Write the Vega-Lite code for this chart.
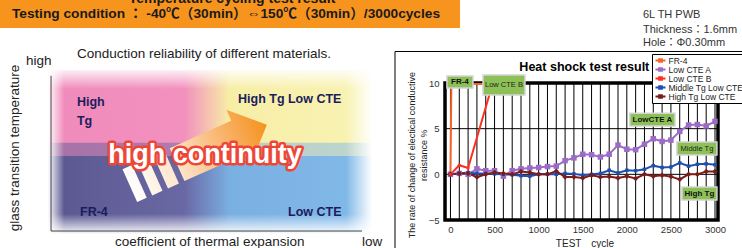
{
  "$schema": "https://vega.github.io/schema/vega-lite/v6.json",
  "width": 742,
  "height": 248,
  "padding": 0,
  "autosize": {"type": "none"},
  "background": "white",
  "config": {"view": {"stroke": null}, "font": "Liberation Sans, Noto Sans CJK JP"},
  "datasets": {
    "series": [
      {"series": "FR-4", "cycle": 0, "value": 0}, {"series": "FR-4", "cycle": 10, "value": 9.9}, {"series": "FR-4", "cycle": 500, "value": 9.9},
      {"series": "Low CTE A", "cycle": 0, "value": 0}, {"series": "Low CTE A", "cycle": 100, "value": 0.1}, {"series": "Low CTE A", "cycle": 200, "value": 0.0}, {"series": "Low CTE A", "cycle": 300, "value": 0.6}, {"series": "Low CTE A", "cycle": 400, "value": 0.4}, {"series": "Low CTE A", "cycle": 500, "value": 0.4}, {"series": "Low CTE A", "cycle": 600, "value": -0.2}, {"series": "Low CTE A", "cycle": 700, "value": 0.4}, {"series": "Low CTE A", "cycle": 800, "value": 0.6}, {"series": "Low CTE A", "cycle": 900, "value": 0.7}, {"series": "Low CTE A", "cycle": 1000, "value": 0.75}, {"series": "Low CTE A", "cycle": 1100, "value": 0.85}, {"series": "Low CTE A", "cycle": 1200, "value": 0.9}, {"series": "Low CTE A", "cycle": 1300, "value": 1.5}, {"series": "Low CTE A", "cycle": 1400, "value": 1.8}, {"series": "Low CTE A", "cycle": 1500, "value": 2.2}, {"series": "Low CTE A", "cycle": 1600, "value": 2.15}, {"series": "Low CTE A", "cycle": 1700, "value": 1.9}, {"series": "Low CTE A", "cycle": 1800, "value": 2.2}, {"series": "Low CTE A", "cycle": 1900, "value": 3.2}, {"series": "Low CTE A", "cycle": 2000, "value": 2.75}, {"series": "Low CTE A", "cycle": 2100, "value": 2.7}, {"series": "Low CTE A", "cycle": 2200, "value": 3.3}, {"series": "Low CTE A", "cycle": 2300, "value": 3.9}, {"series": "Low CTE A", "cycle": 2400, "value": 3.6}, {"series": "Low CTE A", "cycle": 2500, "value": 3.75}, {"series": "Low CTE A", "cycle": 2600, "value": 4.7}, {"series": "Low CTE A", "cycle": 2700, "value": 5.4}, {"series": "Low CTE A", "cycle": 2800, "value": 5.45}, {"series": "Low CTE A", "cycle": 2900, "value": 5.3}, {"series": "Low CTE A", "cycle": 3000, "value": 5.8},
      {"series": "Low CTE B", "cycle": 0, "value": 0}, {"series": "Low CTE B", "cycle": 100, "value": 1.0}, {"series": "Low CTE B", "cycle": 200, "value": 0.7}, {"series": "Low CTE B", "cycle": 480, "value": 10},
      {"series": "Middle Tg Low CTE", "cycle": 0, "value": 0}, {"series": "Middle Tg Low CTE", "cycle": 100, "value": 0.1}, {"series": "Middle Tg Low CTE", "cycle": 200, "value": 0.2}, {"series": "Middle Tg Low CTE", "cycle": 300, "value": 0.1}, {"series": "Middle Tg Low CTE", "cycle": 400, "value": 0.1}, {"series": "Middle Tg Low CTE", "cycle": 500, "value": 0.05}, {"series": "Middle Tg Low CTE", "cycle": 600, "value": 0}, {"series": "Middle Tg Low CTE", "cycle": 700, "value": -0.05}, {"series": "Middle Tg Low CTE", "cycle": 800, "value": -0.15}, {"series": "Middle Tg Low CTE", "cycle": 900, "value": -0.2}, {"series": "Middle Tg Low CTE", "cycle": 1000, "value": 0.0}, {"series": "Middle Tg Low CTE", "cycle": 1100, "value": 0.05}, {"series": "Middle Tg Low CTE", "cycle": 1200, "value": 0.0}, {"series": "Middle Tg Low CTE", "cycle": 1300, "value": 0.1}, {"series": "Middle Tg Low CTE", "cycle": 1400, "value": 0.05}, {"series": "Middle Tg Low CTE", "cycle": 1500, "value": -0.1}, {"series": "Middle Tg Low CTE", "cycle": 1600, "value": 0}, {"series": "Middle Tg Low CTE", "cycle": 1700, "value": 0.1}, {"series": "Middle Tg Low CTE", "cycle": 1800, "value": 0.45}, {"series": "Middle Tg Low CTE", "cycle": 1900, "value": 0.15}, {"series": "Middle Tg Low CTE", "cycle": 2000, "value": 0.45}, {"series": "Middle Tg Low CTE", "cycle": 2100, "value": 0.4}, {"series": "Middle Tg Low CTE", "cycle": 2200, "value": 0.55}, {"series": "Middle Tg Low CTE", "cycle": 2300, "value": 0.95}, {"series": "Middle Tg Low CTE", "cycle": 2400, "value": 0.75}, {"series": "Middle Tg Low CTE", "cycle": 2500, "value": 0.8}, {"series": "Middle Tg Low CTE", "cycle": 2600, "value": 1.25}, {"series": "Middle Tg Low CTE", "cycle": 2700, "value": 0.9}, {"series": "Middle Tg Low CTE", "cycle": 2800, "value": 1.1}, {"series": "Middle Tg Low CTE", "cycle": 2900, "value": 1.15}, {"series": "Middle Tg Low CTE", "cycle": 3000, "value": 1.05},
      {"series": "High Tg Low CTE", "cycle": 0, "value": 0}, {"series": "High Tg Low CTE", "cycle": 100, "value": 0.1}, {"series": "High Tg Low CTE", "cycle": 200, "value": 0.1}, {"series": "High Tg Low CTE", "cycle": 300, "value": -0.3}, {"series": "High Tg Low CTE", "cycle": 400, "value": 0}, {"series": "High Tg Low CTE", "cycle": 500, "value": 0.2}, {"series": "High Tg Low CTE", "cycle": 600, "value": 0.1}, {"series": "High Tg Low CTE", "cycle": 700, "value": 0}, {"series": "High Tg Low CTE", "cycle": 800, "value": 0.3}, {"series": "High Tg Low CTE", "cycle": 900, "value": 0.2}, {"series": "High Tg Low CTE", "cycle": 1000, "value": 0}, {"series": "High Tg Low CTE", "cycle": 1100, "value": 0}, {"series": "High Tg Low CTE", "cycle": 1200, "value": 0.35}, {"series": "High Tg Low CTE", "cycle": 1300, "value": -0.3}, {"series": "High Tg Low CTE", "cycle": 1400, "value": -0.3}, {"series": "High Tg Low CTE", "cycle": 1500, "value": -0.4}, {"series": "High Tg Low CTE", "cycle": 1600, "value": -0.1}, {"series": "High Tg Low CTE", "cycle": 1700, "value": -0.3}, {"series": "High Tg Low CTE", "cycle": 1800, "value": -0.25}, {"series": "High Tg Low CTE", "cycle": 1900, "value": -0.4}, {"series": "High Tg Low CTE", "cycle": 2000, "value": -0.2}, {"series": "High Tg Low CTE", "cycle": 2100, "value": -0.45}, {"series": "High Tg Low CTE", "cycle": 2200, "value": 0.0}, {"series": "High Tg Low CTE", "cycle": 2300, "value": -0.2}, {"series": "High Tg Low CTE", "cycle": 2400, "value": -0.1}, {"series": "High Tg Low CTE", "cycle": 2500, "value": -0.25}, {"series": "High Tg Low CTE", "cycle": 2600, "value": -0.55}, {"series": "High Tg Low CTE", "cycle": 2700, "value": 0.0}, {"series": "High Tg Low CTE", "cycle": 2800, "value": 0.0}, {"series": "High Tg Low CTE", "cycle": 2900, "value": 0.3}, {"series": "High Tg Low CTE", "cycle": 3000, "value": 0.3}
    ],
    "gridX": [{"cycle": 0, "value": -5, "value2": 10}, {"cycle": 100, "value": -5, "value2": 10}, {"cycle": 200, "value": -5, "value2": 10}, {"cycle": 300, "value": -5, "value2": 10}, {"cycle": 400, "value": -5, "value2": 10}, {"cycle": 500, "value": -5, "value2": 10}, {"cycle": 600, "value": -5, "value2": 10}, {"cycle": 700, "value": -5, "value2": 10}, {"cycle": 800, "value": -5, "value2": 10}, {"cycle": 900, "value": -5, "value2": 10}, {"cycle": 1000, "value": -5, "value2": 10}, {"cycle": 1100, "value": -5, "value2": 10}, {"cycle": 1200, "value": -5, "value2": 10}, {"cycle": 1300, "value": -5, "value2": 10}, {"cycle": 1400, "value": -5, "value2": 10}, {"cycle": 1500, "value": -5, "value2": 10}, {"cycle": 1600, "value": -5, "value2": 10}, {"cycle": 1700, "value": -5, "value2": 10}, {"cycle": 1800, "value": -5, "value2": 10}, {"cycle": 1900, "value": -5, "value2": 10}, {"cycle": 2000, "value": -5, "value2": 10}, {"cycle": 2100, "value": -5, "value2": 10}, {"cycle": 2200, "value": -5, "value2": 10}, {"cycle": 2300, "value": -5, "value2": 10}, {"cycle": 2400, "value": -5, "value2": 10}, {"cycle": 2500, "value": -5, "value2": 10}, {"cycle": 2600, "value": -5, "value2": 10}, {"cycle": 2700, "value": -5, "value2": 10}, {"cycle": 2800, "value": -5, "value2": 10}, {"cycle": 2900, "value": -5, "value2": 10}, {"cycle": 3000, "value": -5, "value2": 10}],
    "gridY": [{"value": 0, "cycle": -62, "cycle2": 3034}, {"value": 5, "cycle": -62, "cycle2": 3034}]
  },
  "layer": [
    {
      "encoding": {
        "x": {"field": "x", "type": "quantitative", "scale": {"domain": [0, 2], "range": [55, 360], "nice": false, "zero": false}, "axis": null},
        "y": {"field": "y", "type": "quantitative", "scale": {"domain": [0, 2], "range": [225, 78], "nice": false, "zero": false}, "axis": null}
      },
      "layer": [
        {
          "data": {"values": [{"x": -0.4, "x2": 2.656, "y": 3.1, "y2": 2.68}]},
          "mark": {"type": "rect", "fill": "#f7941d"},
          "encoding": {"x2": {"field": "x2"}, "y2": {"field": "y2"}}
        },
        {
          "data": {"values": [{"x": 1.161, "y": 3.02, "label": "Temperature cycling test result"}]},
          "mark": {"type": "text", "align": "center", "baseline": "alphabetic", "fontSize": 14, "fontWeight": "bold", "color": "#1a1a1a"},
          "encoding": {"text": {"field": "label"}}
        },
        {
          "data": {"values": [{"x": -0.282, "y": 2.871, "label": "Testing condition ： -40℃（30min）⇔150℃（30min）/3000cycles"}]},
          "mark": {"type": "text", "align": "left", "baseline": "middle", "fontSize": 13.7, "fontWeight": "bold", "color": "#1a1a1a"},
          "encoding": {"text": {"field": "label"}}
        },
        {
          "data": {"values": [{"x": -0.046, "x2": 2.079, "y": 2.11, "y2": 1.0}]},
          "mark": {"type": "rect", "fill": {"gradient": "linear", "x1": 0, "y1": 0, "x2": 1, "y2": 0, "stops": [
            {"offset": 0, "color": "#ffffff"}, {"offset": 0.05, "color": "#f08cbc"}, {"offset": 0.42, "color": "#f290be"}, {"offset": 0.56, "color": "#f7eea6"}, {"offset": 0.92, "color": "#f8f2b2"}, {"offset": 1, "color": "#ffffff"}]}},
          "encoding": {"x2": {"field": "x2"}, "y2": {"field": "y2"}}
        },
        {
          "data": {"values": [{"x": -0.046, "x2": 2.079, "y": 1.03, "y2": -0.12}]},
          "mark": {"type": "rect", "fill": {"gradient": "linear", "x1": 0, "y1": 0, "x2": 1, "y2": 0, "stops": [
            {"offset": 0, "color": "#ffffff"}, {"offset": 0.05, "color": "#5c5992"}, {"offset": 0.42, "color": "#6a68a4"}, {"offset": 0.56, "color": "#7aafe2"}, {"offset": 0.92, "color": "#80b8e8"}, {"offset": 1, "color": "#ffffff"}]}},
          "encoding": {"x2": {"field": "x2"}, "y2": {"field": "y2"}}
        },
        {
          "data": {"values": [{"x": -0.046, "x2": 2.079, "y": 1.12, "y2": 1.03}]},
          "mark": {"type": "rect", "opacity": 0.5, "fill": {"gradient": "linear", "x1": 0, "y1": 0, "x2": 1, "y2": 0, "stops": [
            {"offset": 0, "color": "#ffffff"}, {"offset": 0.05, "color": "#5c5992"}, {"offset": 0.42, "color": "#6a68a4"}, {"offset": 0.56, "color": "#7aafe2"}, {"offset": 0.92, "color": "#80b8e8"}, {"offset": 1, "color": "#ffffff"}]}},
          "encoding": {"x2": {"field": "x2"}, "y2": {"field": "y2"}}
        },
        {
          "data": {"values": [{"x": -0.046, "x2": 2.079, "y": 1.03, "y2": 0.94}]},
          "mark": {"type": "rect", "opacity": 0.5, "fill": {"gradient": "linear", "x1": 0, "y1": 0, "x2": 1, "y2": 0, "stops": [
            {"offset": 0, "color": "#ffffff"}, {"offset": 0.05, "color": "#f08cbc"}, {"offset": 0.42, "color": "#f290be"}, {"offset": 0.56, "color": "#f7eea6"}, {"offset": 0.92, "color": "#f8f2b2"}, {"offset": 1, "color": "#ffffff"}]}},
          "encoding": {"x2": {"field": "x2"}, "y2": {"field": "y2"}}
        },
        {
          "data": {"values": [{"x": -0.1, "x2": 2.15, "y": 2.15, "y2": 1.85}]},
          "mark": {"type": "rect", "fill": {"gradient": "linear", "x1": 0, "y1": 0, "x2": 0, "y2": 1, "stops": [
            {"offset": 0, "color": "#ffffff"}, {"offset": 1, "color": "rgba(255,255,255,0)"}]}},
          "encoding": {"x2": {"field": "x2"}, "y2": {"field": "y2"}}
        },
        {
          "data": {"values": [{"x": -0.1, "x2": 2.15, "y": 0.15, "y2": -0.13}]},
          "mark": {"type": "rect", "fill": {"gradient": "linear", "x1": 0, "y1": 0, "x2": 0, "y2": 1, "stops": [
            {"offset": 0, "color": "rgba(255,255,255,0)"}, {"offset": 1, "color": "#ffffff"}]}},
          "encoding": {"x2": {"field": "x2"}, "y2": {"field": "y2"}}
        },
        {
          "data": {"values": [{"x": -0.026, "y": 2.03, "y2": -0.082}]},
          "mark": {"type": "rule", "color": "#444", "strokeWidth": 1},
          "encoding": {"y2": {"field": "y2"}}
        },
        {
          "data": {"values": [{"x": -0.026, "x2": 2.013, "y": -0.082}]},
          "mark": {"type": "rule", "color": "#444", "strokeWidth": 1},
          "encoding": {"x2": {"field": "x2"}}
        },
        {
          "data": {"values": [
            {"x": 0.144, "y": 2.327, "label": "Conduction reliability of different materials."},
            {"x": -0.19, "y": 2.231, "label": "high"},
            {"x": 0.393, "y": -0.231, "label": "coefficient of thermal expansion"},
            {"x": 2.013, "y": -0.231, "label": "low"}
          ]},
          "mark": {"type": "text", "align": "left", "baseline": "middle", "fontSize": 13.5, "color": "#222"},
          "encoding": {"text": {"field": "label"}}
        },
        {
          "data": {"values": [{"x": -0.262, "y": 1.048, "label": "glass transition temperature"}]},
          "mark": {"type": "text", "align": "center", "baseline": "middle", "fontSize": 13.5, "angle": 270, "color": "#222"},
          "encoding": {"text": {"field": "label"}}
        },
        {
          "data": {"values": [
            {"x": 0.144, "y": 1.673, "label": "High"},
            {"x": 0.144, "y": 1.415, "label": "Tg"},
            {"x": 1.2, "y": 1.714, "label": "High Tg Low CTE"},
            {"x": 0.164, "y": 0.177, "label": "FR-4"},
            {"x": 1.528, "y": 0.177, "label": "Low CTE"}
          ]},
          "mark": {"type": "text", "align": "left", "baseline": "middle", "fontSize": 12.5, "fontWeight": "bold", "color": "#1b1d5c"},
          "encoding": {"text": {"field": "label"}}
        },
        {
          "data": {"values": [{"x": 0.94, "y": 0.95}]},
          "mark": {"type": "point", "filled": true, "size": 22500, "angle": -24, "strokeWidth": 0, "opacity": 1,
            "shape": "M-0.31,-0.24L0.587,-0.24L0.587,-0.4L1,0L0.587,0.4L0.587,0.24L-0.31,0.24Z M-1,-0.24L-0.86,-0.24L-0.86,0.24L-1,0.24Z M-0.78,-0.24L-0.63,-0.24L-0.63,0.24L-0.78,0.24Z M-0.55,-0.24L-0.39,-0.24L-0.39,0.24L-0.55,0.24Z",
            "fill": {"gradient": "linear", "x1": 0, "y1": 0, "x2": 1, "y2": 0, "stops": [
              {"offset": 0, "color": "#ffffff"}, {"offset": 0.35, "color": "#fde3c6"}, {"offset": 0.7, "color": "#f9b46c"}, {"offset": 1, "color": "#f5921e"}]}}
        },
        {
          "data": {"values": [{"x": 0.984, "y": 0.844, "label": "high continuity"}]},
          "mark": {"type": "text", "align": "center", "baseline": "alphabetic", "fontSize": 27, "fontWeight": "bold", "fill": "#ee4636", "stroke": "#ee4636", "strokeWidth": 5, "strokeJoin": "round", "font": "Liberation Sans"},
          "encoding": {"text": {"field": "label"}}
        },
        {
          "data": {"values": [{"x": 0.984, "y": 0.844, "label": "high continuity"}]},
          "mark": {"type": "text", "align": "center", "baseline": "alphabetic", "fontSize": 27, "fontWeight": "bold", "fill": "#ffffff", "font": "Liberation Sans"},
          "encoding": {"text": {"field": "label"}}
        }
      ]
    },
    {
      "encoding": {
        "x": {"field": "cycle", "type": "quantitative", "scale": {"domain": [-62, 3034], "range": [445, 718], "nice": false, "zero": false},
          "axis": {"orient": "bottom", "offset": -28, "values": [0, 500, 1000, 1500, 2000, 2500, 3000],
            "format": "d", "labelOverlap": false, "labelFlush": false, "grid": false,
            "domain": false, "ticks": false, "labelFontSize": 9.5, "labelColor": "#333", "labelPadding": 4, "title": null}},
        "y": {"field": "value", "type": "quantitative", "scale": {"domain": [-5, 10], "range": [220, 83], "nice": false, "zero": false},
          "axis": {"orient": "left", "offset": -445, "values": [-5, 0, 5, 10], "grid": false,
            "domain": false, "ticks": false, "labelFontSize": 9.5, "labelColor": "#333", "labelPadding": 6, "title": null}}
      },
      "layer": [
        {
          "data": {"values": [{"cycle": -629, "cycle2": 3400, "value": -9, "value2": 13.45}]},
          "mark": {"type": "rect", "fill": "transparent", "stroke": "#000", "strokeWidth": 1},
          "encoding": {"x2": {"field": "cycle2"}, "y2": {"field": "value2"}}
        },
        {
          "data": {"name": "gridX"},
          "mark": {"type": "rule", "color": "#000", "strokeWidth": 1},
          "encoding": {"y2": {"field": "value2"}}
        },
        {
          "data": {"name": "gridY"},
          "mark": {"type": "rule", "color": "#000", "strokeWidth": 1},
          "encoding": {"x2": {"field": "cycle2"}}
        },
        {
          "data": {"values": [{"cycle": -62, "cycle2": 3034, "value": -5, "value2": 10}]},
          "mark": {"type": "rect", "fill": "transparent", "stroke": "#000", "strokeWidth": 3.5},
          "encoding": {"x2": {"field": "cycle2"}, "y2": {"field": "value2"}}
        },
        {
          "data": {"name": "series"},
          "mark": {"type": "line", "strokeWidth": 2},
          "encoding": {
            "stroke": {"field": "series", "type": "nominal",
              "scale": {"domain": ["FR-4", "Low CTE A", "Low CTE B", "Middle Tg Low CTE", "High Tg Low CTE"], "range": ["#f5622a", "#9b6bc7", "#ff2f1f", "#1f4fb0", "#7a1c1c"]},
              "legend": {"orient": "none", "legendX": 652, "legendY": 54, "title": null,
                "symbolType": "M-1,0L1,0M-0.25,-0.25L0.25,-0.25L0.25,0.25L-0.25,0.25Z", "symbolSize": 100, "symbolStrokeWidth": 2.2,
                "labelFontSize": 8.5, "labelColor": "#222", "labelOffset": 1.5, "rowPadding": 0, "clipHeight": 9, "padding": 2,
                "fillColor": "white", "strokeColor": "#000", "labelLimit": 200}}
          }
        },
        {
          "data": {"name": "series"},
          "transform": [{"filter": "datum.series === 'Low CTE A'"}],
          "mark": {"type": "point", "filled": true, "shape": "square", "size": 30, "strokeWidth": 0, "opacity": 1, "color": "#9b6bc7"}
        },
        {
          "data": {"name": "series"},
          "transform": [{"filter": "datum.series === 'Middle Tg Low CTE'"}],
          "mark": {"type": "point", "filled": true, "shape": "square", "size": 12, "strokeWidth": 0, "opacity": 1, "color": "#1f4fb0"}
        },
        {
          "data": {"name": "series"},
          "transform": [{"filter": "datum.series === 'High Tg Low CTE'"}],
          "mark": {"type": "point", "filled": true, "shape": "diamond", "size": 30, "strokeWidth": 0, "opacity": 1, "color": "#7a1c1c"}
        },
        {
          "data": {"name": "series"},
          "transform": [{"filter": "datum.series === 'Low CTE B'"}],
          "mark": {"type": "point", "filled": true, "shape": "circle", "size": 10, "strokeWidth": 0, "opacity": 1, "color": "#ff2f1f"}
        },
        {
          "data": {"values": [
            {"cycle": -40, "cycle2": 255, "value": 10.76, "value2": 9.45},
            {"cycle": 369, "cycle2": 845, "value": 10.87, "value2": 8.68},
            {"cycle": 2035, "cycle2": 2546, "value": 6.7, "value2": 5.3},
            {"cycle": 2568, "cycle2": 3022, "value": 3.54, "value2": 2.11},
            {"cycle": 2625, "cycle2": 3022, "value": -1.39, "value2": -2.81}
          ]},
          "mark": {"type": "rect", "fill": "#8dc158", "stroke": "#d4d4d4", "strokeWidth": 1.5},
          "encoding": {"x2": {"field": "cycle2"}, "y2": {"field": "value2"}}
        },
        {
          "data": {"values": [
            {"cycle": 107, "value": 10.1, "label": "FR-4"},
            {"cycle": 2290, "value": 6.0, "label": "LowCTE A"},
            {"cycle": 2823, "value": -2.1, "label": "High Tg"}
          ]},
          "mark": {"type": "text", "align": "center", "baseline": "middle", "fontSize": 8, "fontWeight": "bold", "color": "#111"},
          "encoding": {"text": {"field": "label"}}
        },
        {
          "data": {"values": [
            {"cycle": 607, "value": 9.77, "label": "Low CTE B"},
            {"cycle": 2795, "value": 2.82, "label": "Middle Tg"}
          ]},
          "mark": {"type": "text", "align": "center", "baseline": "middle", "fontSize": 7.5, "color": "#222"},
          "encoding": {"text": {"field": "label"}}
        },
        {
          "data": {"values": [{"cycle": 1518, "value": 11.7, "label": "Heat shock test result"}]},
          "mark": {"type": "text", "align": "center", "baseline": "middle", "fontSize": 12.5, "fontWeight": "bold", "color": "#000"},
          "encoding": {"text": {"field": "label"}}
        },
        {
          "data": {"values": [
            {"cycle": 2183, "value": 17.44, "label": "6L TH PWB"},
            {"cycle": 2183, "value": 15.8, "label": "Thickness：1.6mm"},
            {"cycle": 2183, "value": 14.4, "label": "Hole：Φ0.30mm"}
          ]},
          "mark": {"type": "text", "align": "left", "baseline": "middle", "fontSize": 11, "color": "#333"},
          "encoding": {"text": {"field": "label"}}
        },
        {
          "data": {"values": [
            {"cycle": -437, "value": 2.1, "label": "The rate of change of electical conductive"},
            {"cycle": -300, "value": 2.1, "label": "resistance %"}
          ]},
          "mark": {"type": "text", "align": "center", "baseline": "middle", "fontSize": 9, "angle": 270, "color": "#222"},
          "encoding": {"text": {"field": "label"}}
        },
        {
          "data": {"values": [{"cycle": 1525, "value": -7.6, "label": "TEST　cycle"}]},
          "mark": {"type": "text", "align": "center", "baseline": "middle", "fontSize": 10, "color": "#222"},
          "encoding": {"text": {"field": "label"}}
        }
      ]
    }
  ],
  "resolve": {"scale": {"x": "independent", "y": "independent"}, "axis": {"x": "independent", "y": "independent"}}
}
